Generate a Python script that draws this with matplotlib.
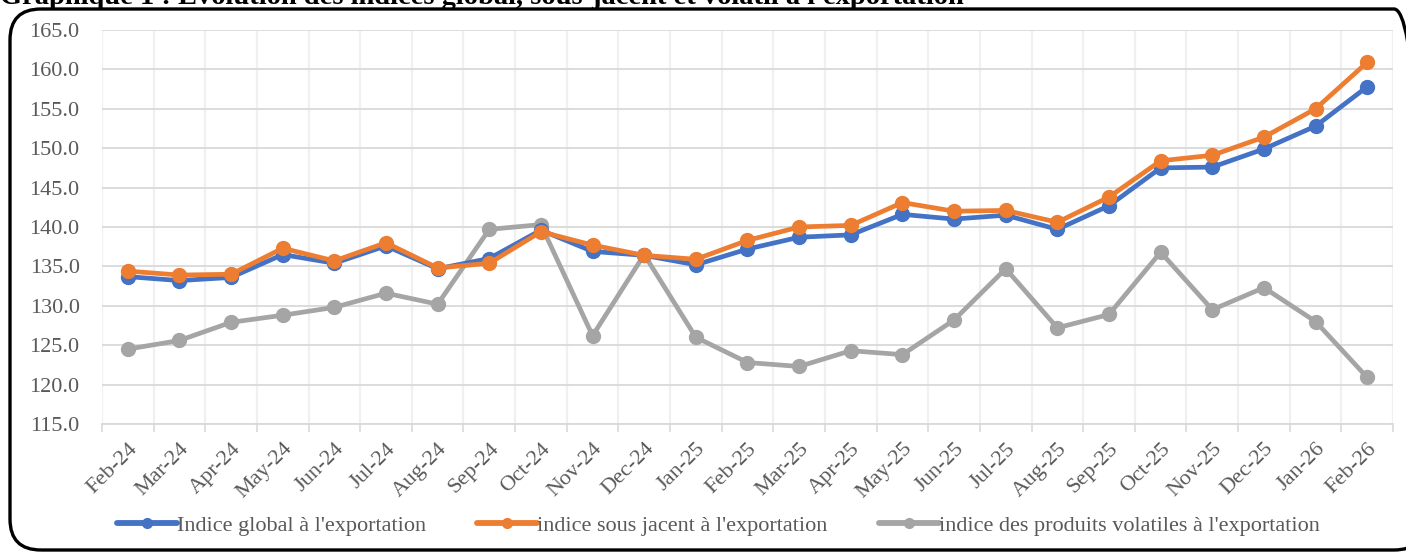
import numpy as np
import matplotlib.pyplot as plt
from matplotlib.patches import FancyBboxPatch

plt.rcParams['font.family'] = ['Liberation Serif', 'DejaVu Serif']

# data
months = ["Feb-24", "Mar-24", "Apr-24", "May-24", "Jun-24", "Jul-24", "Aug-24",
          "Sep-24", "Oct-24", "Nov-24", "Dec-24", "Jan-25", "Feb-25", "Mar-25",
          "Apr-25", "May-25", "Jun-25", "Jul-25", "Aug-25", "Sep-25", "Oct-25",
          "Nov-25", "Dec-25", "Jan-26", "Feb-26"]
global_idx = [133.7, 133.2, 133.6, 136.5, 135.4, 137.6, 134.7, 136.0, 139.6, 136.9,
              136.4, 135.2, 137.2, 138.7, 139.0, 141.6, 141.0, 141.5, 139.7, 142.7,
              147.5, 147.6, 149.9, 152.8, 157.8]
sous_jacent = [134.4, 133.9, 134.0, 137.3, 135.7, 138.0, 134.8, 135.4, 139.4, 137.7,
               136.4, 135.9, 138.3, 140.0, 140.2, 143.1, 142.0, 142.1, 140.6, 143.8,
               148.4, 149.1, 151.4, 155.0, 160.9]
volatile = [124.5, 125.6, 127.9, 128.8, 129.8, 131.6, 130.2, 139.7, 140.3, 126.2,
            136.5, 126.0, 122.8, 122.3, 124.3, 123.8, 128.2, 134.7, 127.2, 128.9,
            136.8, 129.5, 132.3, 128.0, 120.9]

labels = ["Indice global à l'exportation",
          "indice sous jacent à l'exportation",
          "indice des produits volatiles à l'exportation"]
colors = ["#4472C4", "#ED7D31", "#A5A5A5"]

fig = plt.figure(figsize=(14.06, 5.52), dpi=100)
ax = fig.add_axes([0.0725, 0.2319, 0.9183, 0.7138])

x = np.arange(len(months))
# grey first so the others sit on top like in the original
order = [2, 0, 1]
series = [global_idx, sous_jacent, volatile]
handles = {}
for i in order:
    h, = ax.plot(x, series[i], color=colors[i], lw=3.4, marker='o', ms=10,
                 label=labels[i], solid_capstyle='round')
    handles[i] = h

ax.set_ylim(115, 165)
ax.set_yticks(np.arange(115, 166, 5))
ax.set_yticklabels(["%.1f" % v for v in np.arange(115, 166, 5)])
ax.set_xlim(-0.5, len(months) - 0.5)
ax.set_xticks(x)
ax.set_xticklabels(months, rotation=45, ha='right', rotation_mode='anchor')
ax.set_xticks(np.arange(-0.5, len(months), 1), minor=True)

ax.tick_params(axis='x', which='major', length=0, pad=11, labelsize=16, labelcolor='#595959')
ax.tick_params(axis='x', which='minor', length=6, color='#D9D9D9', width=1.2)
ax.tick_params(axis='y', length=0, pad=16, labelsize=16, labelcolor='#595959')

ax.grid(axis='y', color='#D9D9D9', lw=1.3)
ax.grid(axis='x', which='minor', color='#F0F0F0', lw=1.6)
ax.set_axisbelow(True)
for s in ['top', 'right', 'left']:
    ax.spines[s].set_visible(False)
ax.spines['bottom'].set_color('#D9D9D9')
ax.spines['bottom'].set_linewidth(1.3)

leg = fig.legend([handles[0], handles[1], handles[2]], labels, loc='center',
                 bbox_to_anchor=(0.511, 0.048), ncol=3, frameon=False,
                 fontsize=16, handlelength=2.7, handletextpad=0.0, columnspacing=2.3)
for t in leg.get_texts():
    t.set_color('#595959')
for lh in leg.get_lines():
    lh.set_markersize(7)
    lh.set_linewidth(4.2)

# rounded frame around the chart (right side runs off the image)
frame = FancyBboxPatch((10 / 1406, 2 / 552), 1415 / 1406, 541 / 552,
                       boxstyle="round,pad=0,rounding_size=0.022",
                       transform=fig.transFigure, fill=False, ec='black', lw=2.4,
                       mutation_aspect=1406 / 552, clip_on=False)
fig.patches.append(frame)

fig.text(0.0, 1.0 - 4 / 552, "Graphique 1 : Évolution des indices global, sous-jacent et volatil à l'exportation",
         fontsize=20.5, fontweight='bold', ha='left', va='baseline')

fig.savefig('out.png', dpi=100)
